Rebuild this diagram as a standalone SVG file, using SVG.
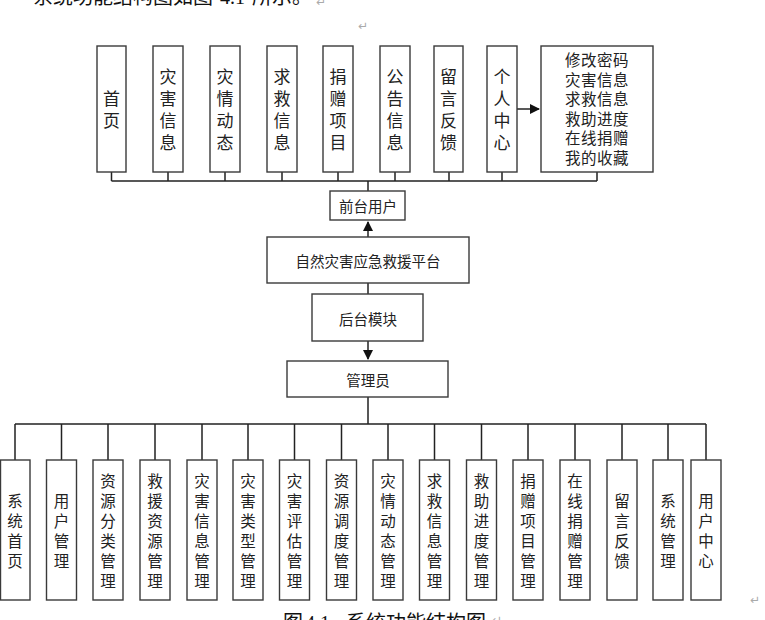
<svg xmlns="http://www.w3.org/2000/svg" width="765" height="620" viewBox="0 0 765 620">
<style>
.box{fill:#fff;stroke:#3a3a3a;stroke-width:1.4}
.ln{fill:none;stroke:#222;stroke-width:1.5}
.t{font-family:"Noto Sans CJK SC","Noto Sans",sans-serif;fill:#222;text-anchor:middle;dominant-baseline:central}
.v18{font-size:17px}
.v16{font-size:15.5px}
.m{font-size:14.5px}
.doc{font-family:"Liberation Serif","Noto Sans CJK SC",serif;font-size:20px;fill:#111}
.mark{font-family:"DejaVu Sans",sans-serif;font-size:12px;fill:#aaa}
</style>
<defs>
<marker id="ah" markerWidth="10" markerHeight="10" refX="9" refY="5" orient="auto" markerUnits="userSpaceOnUse">
<path d="M0,0 L10,5 L0,10 Z" fill="#111"/>
</marker>
</defs>
<rect width="765" height="620" fill="#fff"/>
<text class="doc" x="33" y="4">系统功能结构图如图 <tspan x="220">4.1</tspan><tspan x="252">所示。</tspan></text>
<text class="mark" x="316" y="6">↵</text>
<text class="mark" x="358" y="30">↵</text>
<text class="doc" x="283" y="630">图<tspan x="305">4.1</tspan><tspan x="346">系统功能结构图</tspan></text>
<text class="mark" x="492" y="624">↵</text>
<text class="mark" x="750" y="604">↵</text>

<g id="connectors">
<path class="ln" d="M111.5,172V181M168,172V181M225,172V181M282,172V181M338,172V181M395,172V181M449,172V181M502,172V181M597,172V181M111.5,181H597M368,181V191"/>
<path class="ln" d="M517,109H539" marker-end="url(#ah)"/>
<path class="ln" d="M368,237V222" marker-end="url(#ah)"/>
<path class="ln" d="M368,283V294"/>
<path class="ln" d="M368,341V359" marker-end="url(#ah)"/>
<path class="ln" d="M368,397V424M15,424H706M15,424V460M61.5,424V460M108,424V460M155,424V460M202,424V460M248,424V460M294.5,424V460M341.5,424V460M388,424V460M434.5,424V460M481.5,424V460M528,424V460M575,424V460M622,424V460M668,424V460M706,424V460"/>
</g>

<g id="n-shouye"><rect class="box" x="97" y="46" width="29" height="126"/><text class="t v18" x="111.5"><tspan x="111.5" y="97">首</tspan><tspan x="111.5" y="119">页</tspan></text></g>
<g id="n-zaihai"><rect class="box" x="153" y="46" width="30" height="126"/><text class="t v18"><tspan x="168" y="75">灾</tspan><tspan x="168" y="97">害</tspan><tspan x="168" y="119">信</tspan><tspan x="168" y="141">息</tspan></text></g>
<g id="n-zaiqing"><rect class="box" x="210" y="46" width="30" height="126"/><text class="t v18"><tspan x="225" y="75">灾</tspan><tspan x="225" y="97">情</tspan><tspan x="225" y="119">动</tspan><tspan x="225" y="141">态</tspan></text></g>
<g id="n-qiujiu"><rect class="box" x="267" y="46" width="30" height="126"/><text class="t v18"><tspan x="282" y="75">求</tspan><tspan x="282" y="97">救</tspan><tspan x="282" y="119">信</tspan><tspan x="282" y="141">息</tspan></text></g>
<g id="n-juanzeng"><rect class="box" x="323" y="46" width="30" height="126"/><text class="t v18"><tspan x="338" y="75">捐</tspan><tspan x="338" y="97">赠</tspan><tspan x="338" y="119">项</tspan><tspan x="338" y="141">目</tspan></text></g>
<g id="n-gonggao"><rect class="box" x="380" y="46" width="30" height="126"/><text class="t v18"><tspan x="395" y="75">公</tspan><tspan x="395" y="97">告</tspan><tspan x="395" y="119">信</tspan><tspan x="395" y="141">息</tspan></text></g>
<g id="n-liuyan"><rect class="box" x="434" y="46" width="29" height="126"/><text class="t v18"><tspan x="448.5" y="75">留</tspan><tspan x="448.5" y="97">言</tspan><tspan x="448.5" y="119">反</tspan><tspan x="448.5" y="141">馈</tspan></text></g>
<g id="n-geren"><rect class="box" x="487" y="46" width="30" height="126"/><text class="t v18"><tspan x="502" y="75">个</tspan><tspan x="502" y="97">人</tspan><tspan x="502" y="119">中</tspan><tspan x="502" y="141">心</tspan></text></g>
<g id="n-gerenlist"><rect class="box" x="541" y="46" width="112" height="126"/><text class="t v16" letter-spacing="0.5"><tspan x="597" y="59">修改密码</tspan><tspan x="597" y="78.6">灾害信息</tspan><tspan x="597" y="98.2">求救信息</tspan><tspan x="597" y="117.8">救助进度</tspan><tspan x="597" y="137.4">在线捐赠</tspan><tspan x="597" y="157">我的收藏</tspan></text></g>

<g id="n-qiantai"><rect class="box" x="330" y="191" width="75" height="29"/><text class="t m" x="368" y="205">前台用户</text></g>
<g id="n-platform"><rect class="box" x="267" y="237" width="202" height="46"/><text class="t m" x="368" y="260">自然灾害应急救援平台</text></g>
<g id="n-houtai"><rect class="box" x="312" y="294" width="111" height="47"/><text class="t m" x="368" y="318">后台模块</text></g>
<g id="n-admin"><rect class="box" x="287" y="361" width="161" height="36"/><text class="t m" x="368" y="379">管理员</text></g>

<g id="b-xitongshouye"><rect class="box" x="0.5" y="460" width="29.5" height="140"/><text class="t v16"><tspan x="15" y="500">系</tspan><tspan x="15" y="520">统</tspan><tspan x="15" y="540">首</tspan><tspan x="15" y="560">页</tspan></text></g>
<g id="b-yonghu"><rect class="box" x="46.5" y="460" width="30" height="140"/><text class="t v16"><tspan x="61.5" y="500">用</tspan><tspan x="61.5" y="520">户</tspan><tspan x="61.5" y="540">管</tspan><tspan x="61.5" y="560">理</tspan></text></g>
<g id="b-ziyuanfenlei"><rect class="box" x="93" y="460" width="30" height="140"/><text class="t v16"><tspan x="108" y="480">资</tspan><tspan x="108" y="500">源</tspan><tspan x="108" y="520">分</tspan><tspan x="108" y="540">类</tspan><tspan x="108" y="560">管</tspan><tspan x="108" y="580">理</tspan></text></g>
<g id="b-jiuyuanziyuan"><rect class="box" x="140" y="460" width="30" height="140"/><text class="t v16"><tspan x="155" y="480">救</tspan><tspan x="155" y="500">援</tspan><tspan x="155" y="520">资</tspan><tspan x="155" y="540">源</tspan><tspan x="155" y="560">管</tspan><tspan x="155" y="580">理</tspan></text></g>
<g id="b-zaihaixinxi"><rect class="box" x="187" y="460" width="30" height="140"/><text class="t v16"><tspan x="202" y="480">灾</tspan><tspan x="202" y="500">害</tspan><tspan x="202" y="520">信</tspan><tspan x="202" y="540">息</tspan><tspan x="202" y="560">管</tspan><tspan x="202" y="580">理</tspan></text></g>
<g id="b-zaihaileixing"><rect class="box" x="233" y="460" width="30" height="140"/><text class="t v16"><tspan x="248" y="480">灾</tspan><tspan x="248" y="500">害</tspan><tspan x="248" y="520">类</tspan><tspan x="248" y="540">型</tspan><tspan x="248" y="560">管</tspan><tspan x="248" y="580">理</tspan></text></g>
<g id="b-zaihaipinggu"><rect class="box" x="279.5" y="460" width="30" height="140"/><text class="t v16"><tspan x="294.5" y="480">灾</tspan><tspan x="294.5" y="500">害</tspan><tspan x="294.5" y="520">评</tspan><tspan x="294.5" y="540">估</tspan><tspan x="294.5" y="560">管</tspan><tspan x="294.5" y="580">理</tspan></text></g>
<g id="b-ziyuandiaodu"><rect class="box" x="326.5" y="460" width="30" height="140"/><text class="t v16"><tspan x="341.5" y="480">资</tspan><tspan x="341.5" y="500">源</tspan><tspan x="341.5" y="520">调</tspan><tspan x="341.5" y="540">度</tspan><tspan x="341.5" y="560">管</tspan><tspan x="341.5" y="580">理</tspan></text></g>
<g id="b-zaiqingdongtai"><rect class="box" x="373" y="460" width="30" height="140"/><text class="t v16"><tspan x="388" y="480">灾</tspan><tspan x="388" y="500">情</tspan><tspan x="388" y="520">动</tspan><tspan x="388" y="540">态</tspan><tspan x="388" y="560">管</tspan><tspan x="388" y="580">理</tspan></text></g>
<g id="b-qiujiuxinxi"><rect class="box" x="419.5" y="460" width="30" height="140"/><text class="t v16"><tspan x="434.5" y="480">求</tspan><tspan x="434.5" y="500">救</tspan><tspan x="434.5" y="520">信</tspan><tspan x="434.5" y="540">息</tspan><tspan x="434.5" y="560">管</tspan><tspan x="434.5" y="580">理</tspan></text></g>
<g id="b-jiuzhujindu"><rect class="box" x="466.5" y="460" width="30" height="140"/><text class="t v16"><tspan x="481.5" y="480">救</tspan><tspan x="481.5" y="500">助</tspan><tspan x="481.5" y="520">进</tspan><tspan x="481.5" y="540">度</tspan><tspan x="481.5" y="560">管</tspan><tspan x="481.5" y="580">理</tspan></text></g>
<g id="b-juanzengxiangmu"><rect class="box" x="513" y="460" width="30" height="140"/><text class="t v16"><tspan x="528" y="480">捐</tspan><tspan x="528" y="500">赠</tspan><tspan x="528" y="520">项</tspan><tspan x="528" y="540">目</tspan><tspan x="528" y="560">管</tspan><tspan x="528" y="580">理</tspan></text></g>
<g id="b-zaixianjuanzeng"><rect class="box" x="560" y="460" width="30" height="140"/><text class="t v16"><tspan x="575" y="480">在</tspan><tspan x="575" y="500">线</tspan><tspan x="575" y="520">捐</tspan><tspan x="575" y="540">赠</tspan><tspan x="575" y="560">管</tspan><tspan x="575" y="580">理</tspan></text></g>
<g id="b-liuyanfankui"><rect class="box" x="607" y="460" width="30" height="140"/><text class="t v16"><tspan x="622" y="500">留</tspan><tspan x="622" y="520">言</tspan><tspan x="622" y="540">反</tspan><tspan x="622" y="560">馈</tspan></text></g>
<g id="b-xitongguanli"><rect class="box" x="653" y="460" width="30" height="140"/><text class="t v16"><tspan x="668" y="500">系</tspan><tspan x="668" y="520">统</tspan><tspan x="668" y="540">管</tspan><tspan x="668" y="560">理</tspan></text></g>
<g id="b-yonghuzhongxin"><rect class="box" x="691" y="460" width="30" height="140"/><text class="t v16"><tspan x="706" y="500">用</tspan><tspan x="706" y="520">户</tspan><tspan x="706" y="540">中</tspan><tspan x="706" y="560">心</tspan></text></g>
</svg>
